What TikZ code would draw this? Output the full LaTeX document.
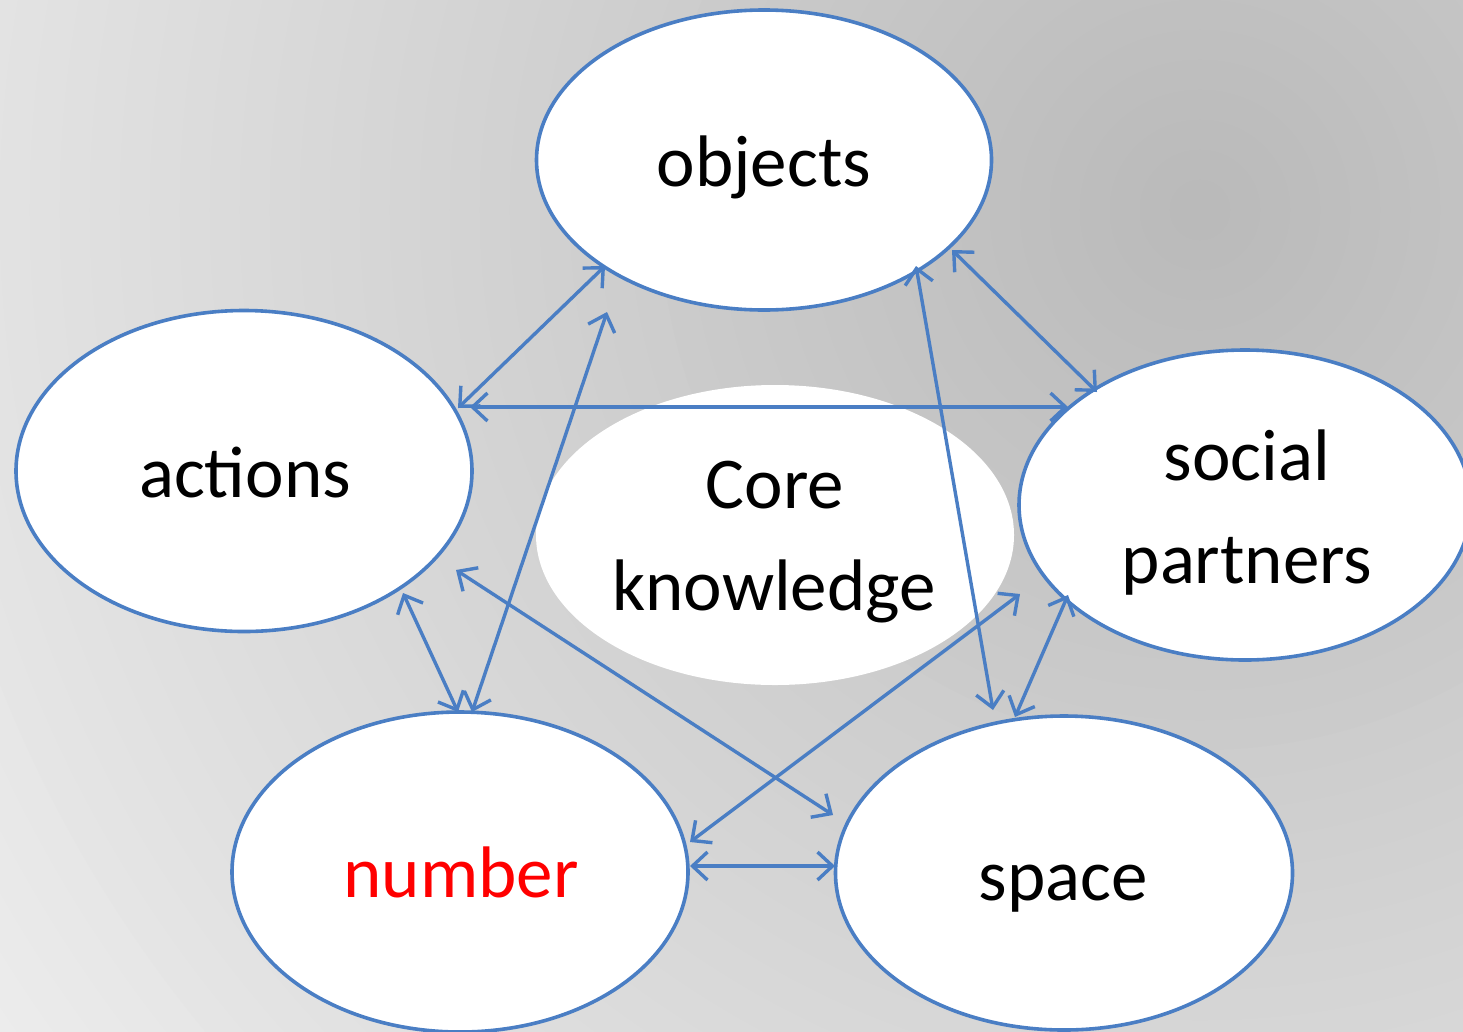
\documentclass[tikz,border=0pt]{standalone}
\usepackage{fontspec}
\setmainfont{Carlito}
\usetikzlibrary{shapes.geometric,arrows.meta}
\definecolor{edge}{HTML}{4A7EC4}
\definecolor{bgdark}{HTML}{BABABA}
\definecolor{bglight}{HTML}{F7F7F7}
\begin{document}
\begin{tikzpicture}[x=1pt,y=-1pt,
  bubble/.style={ellipse, draw=edge, line width=3.6pt, fill=white, inner sep=0pt},
  corebubble/.style={ellipse, fill=white, inner sep=0pt},
  label/.style={anchor=base, inner sep=0pt, font=\fontsize{73}{101}\selectfont},
  link/.style={draw=edge, line width=3.4pt,
    {Straight Barb[length=15pt,width=28pt]}-{Straight Barb[length=15pt,width=28pt]}}]
\useasboundingbox (0,0) rectangle (1463,1031);
\begin{scope}
\clip (0,0) rectangle (1463,1031);
\fill[bglight] (0,0) rectangle (1463,1031);
\foreach \i in {0,...,59}{
  \pgfmathsetmacro\rr{1800*(1-\i/60)}
  \pgfmathsetmacro\pp{100*\i/59}
  \fill[bgdark!\pp!bglight] (1200,210) circle (\rr);
}
\node[corebubble, minimum width=478pt, minimum height=300pt] (core) at (775,535) {};
\node[bubble, minimum width=455pt, minimum height=300pt] (objects) at (764,160) {};
\node[bubble, minimum width=456pt, minimum height=321pt] (actions) at (244,471) {};
\node[bubble, minimum width=452pt, minimum height=310pt] (social) at (1245,505) {};
\node[bubble, minimum width=456pt, minimum height=320pt] (number) at (460,872) {};
\node[bubble, minimum width=457pt, minimum height=314pt] (space) at (1064,873) {};
\end{scope}
% texts
\node[label] (coreA) at (775,508) {Core};
\node[label] (coreB) at (774,610) {knowledge};
\node[label] (objectsT) at (764,186) {objects};
\node[label] (actionsT) at (245,497) {actions};
\node[label] (socialA) at (1247,480) {social};
\node[label] (socialB) at (1247,583) {partners};
\node[label, text=red] (numberT) at (461,897) {number};
\node[label] (spaceT) at (1063,900) {space};
% connector end points
\coordinate (ao1) at (458,408); \coordinate (ao2) at (605,266);
\coordinate (no1) at (472,712); \coordinate (no2) at (607,312);
\coordinate (as1) at (470,407); \coordinate (as2) at (1068,407);
\coordinate (os1) at (952,250); \coordinate (os2) at (1097,392);
\coordinate (osp1) at (916,266); \coordinate (osp2) at (993,710);
\coordinate (an1) at (403,593); \coordinate (an2) at (458,712);
\coordinate (asp1) at (456,570); \coordinate (asp2) at (833,815);
\coordinate (ns1) at (690,842); \coordinate (ns2) at (1020,594);
\coordinate (ssp1) at (1068,595); \coordinate (ssp2) at (1015,717);
\coordinate (nsp1) at (690,866); \coordinate (nsp2) at (835,866);
\draw[link] (ao1) -- (ao2);
\draw[link] (no1) -- (no2);
\draw[link] (as1) -- (as2);
\draw[link] (os1) -- (os2);
\draw[link] (osp1) -- (osp2);
\draw[link] (an1) -- (an2);
\draw[link] (asp1) -- (asp2);
\draw[link] (ns1) -- (ns2);
\draw[link] (ssp1) -- (ssp2);
\draw[link] (nsp1) -- (nsp2);
\end{tikzpicture}
\end{document}
